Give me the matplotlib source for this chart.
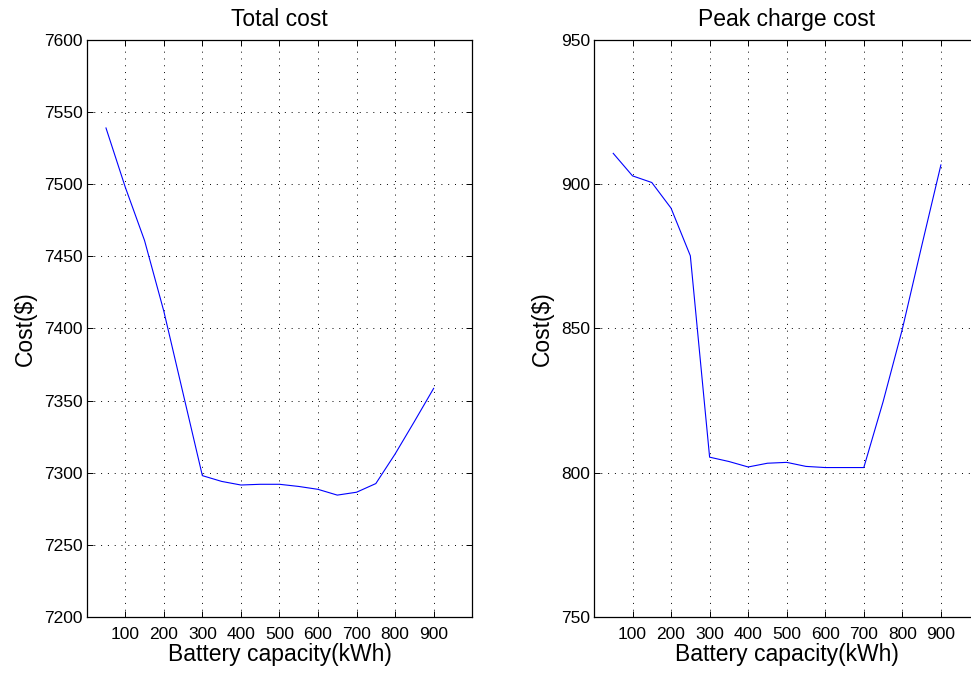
import numpy as np
import matplotlib
matplotlib.use("Agg")
import matplotlib.pyplot as plt

plt.rcParams['font.family'] = ['Liberation Sans', 'DejaVu Sans']

# battery sizes tried (kWh)
capacity = [50, 100, 150, 200, 250, 300, 350, 400, 450,
            500, 550, 600, 650, 700, 750, 800, 850, 900]

# yearly cost results ($)
total_cost = [7539, 7498, 7461, 7412, 7355, 7298, 7294, 7291.5, 7292,
              7292, 7290.5, 7288.5, 7284.5, 7286.5, 7292.5, 7313, 7335.5, 7358.5]
peak_cost = [910.7, 902.9, 900.6, 891.7, 875.2, 805.4, 803.9, 802.0, 803.3,
             803.6, 802.2, 801.8, 801.8, 801.8, 824.6, 849.8, 878.5, 906.7]

xticks = [100, 200, 300, 400, 500, 600, 700, 800, 900]


def matlabStyle(ax, ylim, ystep):
    #sets the axes up to look like an old matlab figure with a dotted grid
    ax.set_xlim(0, 1000)
    ax.set_ylim(*ylim)
    ax.set_xticks(xticks)
    ax.set_yticks(np.arange(ylim[0], ylim[1] + 1, ystep))
    ax.grid(True, color='k', linestyle=(0, (1, 6)), linewidth=0.7)
    ax.tick_params(direction='in', top=True, right=True, length=4.5,
                   width=0.7, labelsize=12.5)
    ax.tick_params(axis='x', pad=7)
    ax.tick_params(axis='y', pad=3)
    for s in ax.spines.values():
        s.set_linewidth(0.9)
    ax.set_xlabel("Battery capacity(kWh)", fontsize=16.5, labelpad=1)
    ax.set_ylabel("Cost($)", fontsize=16.5, labelpad=5)


fig = plt.figure(figsize=(9.71, 6.73), dpi=100)
ax1 = fig.add_axes([0.0893, 0.0832, 0.397, 0.8574])
ax2 = fig.add_axes([0.6117, 0.0832, 0.397, 0.8574])

ax1.plot(capacity, total_cost, color='#0000ff', linewidth=0.8)
matlabStyle(ax1, (7200, 7600), 50)
ax1.set_title("Total cost", fontsize=16.5, pad=10)

ax2.plot(capacity, peak_cost, color='#0000ff', linewidth=0.8)
matlabStyle(ax2, (750, 950), 50)
ax2.set_title("Peak charge cost", fontsize=16.5, pad=10)
# second panel runs past the figure edge, so its right side never shows
ax2.spines['right'].set_visible(False)

fig.savefig("out.png", dpi=100)
